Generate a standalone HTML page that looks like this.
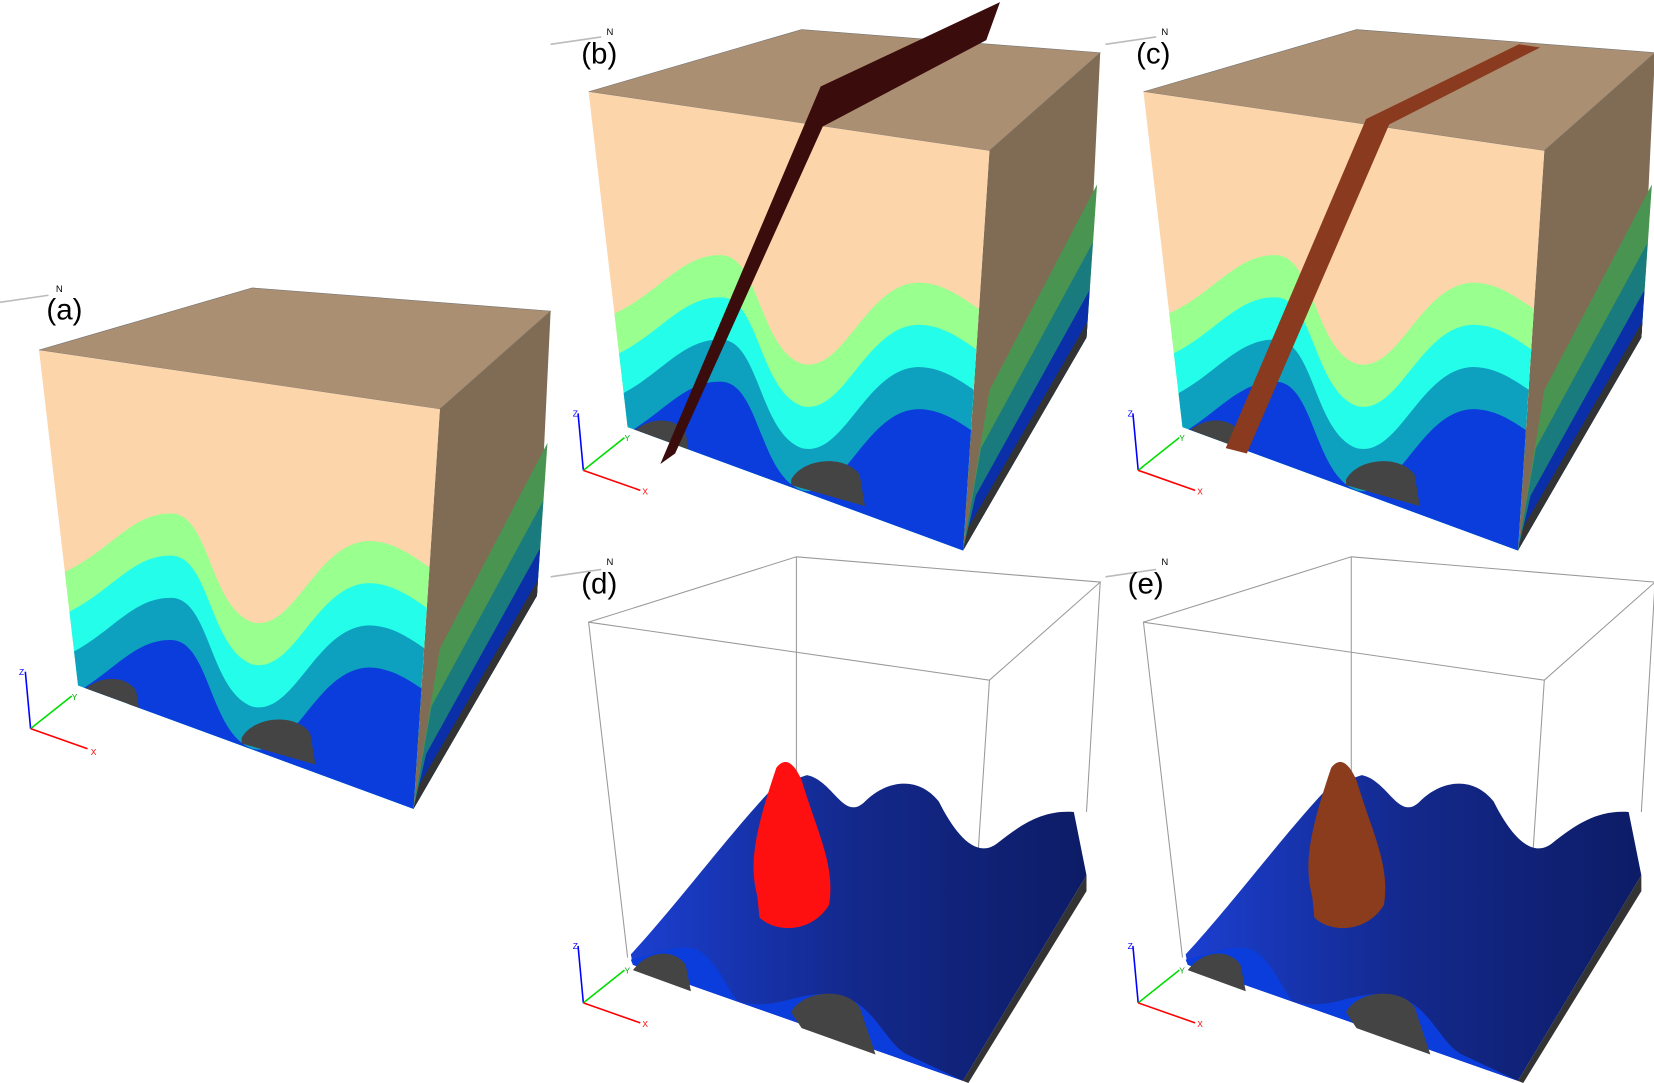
<!DOCTYPE html>
<html><head><meta charset="utf-8"><style>
html,body{margin:0;padding:0;background:#fff;width:1654px;height:1083px;overflow:hidden}
svg text{font-family:"Liberation Sans",sans-serif}
</style></head><body>
<svg width="1654" height="1083" viewBox="0 0 1568 1027" preserveAspectRatio="none" xmlns="http://www.w3.org/2000/svg">
<defs>
<clipPath id="fc"><polygon points="558,87 938,143 913,522 595,405"/></clipPath>
<linearGradient id="sg" x1="0" y1="0" x2="1" y2="0">
<stop offset="0" stop-color="#1b3fd0"/><stop offset="0.5" stop-color="#13288a"/><stop offset="1" stop-color="#0d1c66"/></linearGradient>
<g id="cube">
<polygon points="558,87 760,28 1043,50 938,143" fill="#ab8f72" stroke="#777" stroke-width="0.6"/>
<polygon points="938,143 1043,50 1030,320 913,522" fill="#806c54"/>
<polygon points="938,370 1040,175 1030,320 913,522" fill="#4a9452"/>
<polygon points="930,425 1036,230 1030,320 913,522" fill="#1a7b7e"/>
<polygon points="925,470 1033,275 1030,320 913,522" fill="#0b2fa8"/>
<polygon points="918,500 1031,305 1030,320 913,522" fill="#333"/>
<polygon points="558,87 938,143 913,522 595,405" fill="#fdd5ab"/>
<g clip-path="url(#fc)">
<path d="M560 305 C620 290,640 240,685 242 C720 245,720 330,760 345 C800 355,820 270,870 268 C900 268,920 290,940 300 L940 600 L560 600Z" fill="#99ff8e"/>
<path d="M560 345 C620 330,640 280,685 282 C720 285,720 370,760 385 C800 395,820 310,870 308 C900 308,920 330,940 340 L940 600 L560 600Z" fill="#24fde9"/>
<path d="M560 385 C620 370,640 320,685 322 C720 325,720 410,760 425 C800 435,820 350,870 348 C900 348,920 370,940 380 L940 600 L560 600Z" fill="#0ea1bf"/>
<path d="M560 425 C620 410,640 360,685 362 C720 365,720 450,760 465 C800 475,820 390,870 388 C900 388,920 410,940 420 L940 600 L560 600Z" fill="#0b3ddc"/>
<path d="M600 410 C615 395,640 395,650 410 L655 440 L600 420Z M750 455 C760 435,800 430,815 450 L820 480 L750 460Z" fill="#444"/>
</g>
</g>
<g id="box">
<polyline points="558,590 755,528 1043,552 938,645 558,590 595,908" fill="none" stroke="#999" stroke-width="1"/>
<line x1="755" y1="528" x2="755" y2="740" stroke="#999"/>
<polyline points="938,645 913,1025" fill="none" stroke="#999"/>
<polyline points="1043,552 1030,770" fill="none" stroke="#999"/>
<path d="M598 905 C640 860,700 780,735 745 L765 735 C790 740,800 780,820 760 C840 740,870 735,890 760 C905 790,925 815,945 800 C970 780,990 768,1018 770 L1030 830 L913 1025 L600 915Z" fill="url(#sg)"/>
<path d="M598 910 C620 905,640 895,660 900 C680 910,690 940,700 950 C740 960,760 935,800 945 C830 955,840 990,860 1000 L913 1025 L600 915Z" fill="#0b3ddc"/>
<path d="M600 920 C615 900,640 900,650 915 L655 940 Z M750 960 C760 940,800 935,815 955 L830 1000 L760 975Z" fill="#444"/>
<polygon points="913,1025 1030,830 1030,845 918,1027" fill="#333"/>
</g>
<g id="axes">
<line x1="548" y1="392" x2="553" y2="446" stroke="#00f" stroke-width="1.5"/>
<line x1="553" y1="446" x2="592" y2="415" stroke="#0d0" stroke-width="1.5"/>
<line x1="553" y1="446" x2="607" y2="465" stroke="#f00" stroke-width="1.5"/>
<line x1="522" y1="42" x2="570" y2="35" stroke="#bbb" stroke-width="1.5"/>
</g>
</defs>

<!-- (a) -->
<use href="#cube" transform="translate(-521,245)"/>
<use href="#axes" transform="translate(-524,245)"/>
<text x="44" y="303" font-size="28">(a)</text><text x="53" y="277" font-size="9">N</text>
<text x="18" y="640" font-size="8" fill="#00f">Z</text><text x="68" y="664" font-size="8" fill="#0a0">Y</text><text x="86" y="716" font-size="8" fill="#f00">X</text>

<!-- (b) -->
<use href="#cube"/>
<use href="#axes"/>
<polygon points="778,82 948,2 935,38 780,120 640,430 626,440" fill="#3a0c0c"/>
<text x="551" y="60" font-size="28">(b)</text><text x="575" y="33" font-size="9">N</text>
<text x="543" y="395" font-size="8" fill="#00f">Z</text><text x="592" y="418" font-size="8" fill="#0a0">Y</text><text x="609" y="469" font-size="8" fill="#f00">X</text>

<!-- (c) -->
<use href="#cube" transform="translate(526,0)"/>
<use href="#axes" transform="translate(526,0)"/>
<polygon points="1295,113 1440,42 1460,45 1317,118 1182,430 1162,425" fill="#8a3a1e"/>
<text x="1077" y="60" font-size="28">(c)</text><text x="1101" y="33" font-size="9">N</text>
<text x="1069" y="395" font-size="8" fill="#00f">Z</text><text x="1118" y="418" font-size="8" fill="#0a0">Y</text><text x="1135" y="469" font-size="8" fill="#f00">X</text>

<!-- (d) -->
<use href="#box"/>
<use href="#axes" transform="translate(0,505)"/>
<path d="M718 850 C710 820,715 790,736 728 C744 718,752 722,760 740 C775 790,792 820,786 858 C770 885,735 885,720 870Z" fill="#ff1010"/>
<text x="551" y="563" font-size="28">(d)</text><text x="575" y="536" font-size="9">N</text>
<text x="543" y="900" font-size="8" fill="#00f">Z</text><text x="592" y="923" font-size="8" fill="#0a0">Y</text><text x="609" y="974" font-size="8" fill="#f00">X</text>

<!-- (e) -->
<use href="#box" transform="translate(526,0)"/>
<use href="#axes" transform="translate(526,505)"/>
<path d="M1244 850 C1236 820,1241 790,1262 728 C1270 718,1278 722,1286 740 C1301 790,1318 820,1312 858 C1296 885,1261 885,1246 870Z" fill="#8b3c1c"/>
<text x="1069" y="563" font-size="28">(e)</text><text x="1101" y="536" font-size="9">N</text>
<text x="1069" y="900" font-size="8" fill="#00f">Z</text><text x="1118" y="923" font-size="8" fill="#0a0">Y</text><text x="1135" y="974" font-size="8" fill="#f00">X</text>
</svg>
</body></html>
